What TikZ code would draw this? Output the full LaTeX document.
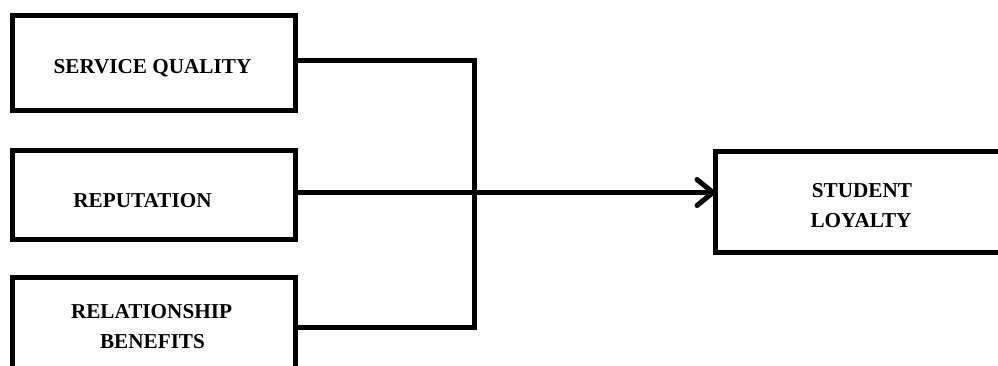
\documentclass[tikz,border=0pt]{standalone}
\usepackage{fontspec}
\setmainfont{Liberation Serif}
\usetikzlibrary{arrows.meta}
\begin{document}
\begin{tikzpicture}[x=1pt,y=-1pt,
  box/.style={draw=black,line width=5pt,outer sep=0pt,inner sep=0pt,anchor=north west},
  lbl/.style={anchor=base,inner sep=0pt,font=\fontsize{21.2}{30}\selectfont\bfseries},
  conn/.style={draw=black,line width=5pt},
  arr/.style={conn,-{Straight Barb[length=16pt,width=26pt,round]}}]
\clip (0,0) rectangle (998,365);
\useasboundingbox (0,0) rectangle (998,365);
\node[box,minimum width=283pt,minimum height=95pt] (sq) at (12.5,15.5) {};
\node[box,minimum width=283pt,minimum height=89pt] (rep) at (12.5,150.5) {};
\node[box,minimum width=283pt,minimum height=95pt] (rb) at (12.5,277.5) {};
\node[box,minimum width=300pt,minimum height=101pt] (sl) at (715.5,151.5) {};
\node[lbl] (t1) at (152.5,73) {SERVICE QUALITY};
\node[lbl] (t2) at (142.5,207) {REPUTATION};
\node[lbl] (t3) at (151.5,318) {RELATIONSHIP};
\node[lbl] (t4) at (152.5,348) {BENEFITS};
\node[lbl] (t5) at (862,197) {STUDENT};
\node[lbl] (t6) at (861,227) {LOYALTY};
\coordinate (jt) at (474.5,60.5);
\coordinate (jb) at (474.5,327.5);
\coordinate (am) at (474.5,192.5);
\draw[conn] (sq.east|-jt) -- (jt) -- (jb) -- (rb.east|-jb);
\draw[arr] (rep.east|-am) -- (sl.west|-am);
\end{tikzpicture}
\end{document}
